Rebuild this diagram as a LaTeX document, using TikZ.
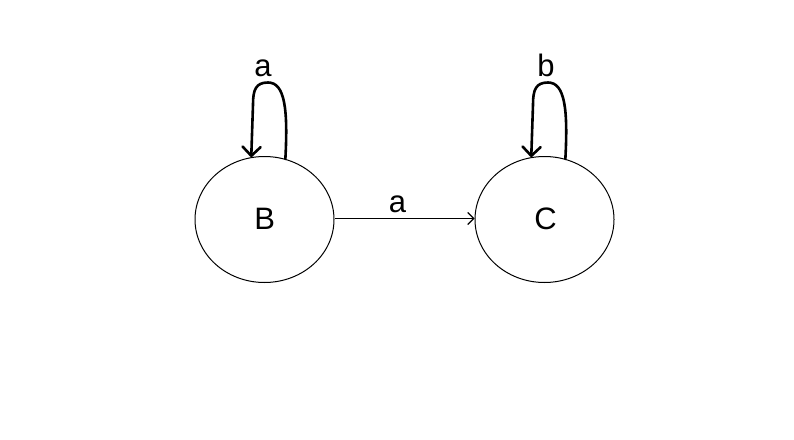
\documentclass[tikz,border=0pt]{standalone}
\usepackage{fontspec}
\setmainfont{Liberation Sans}
\usetikzlibrary{shapes.geometric,arrows.meta,calc}
\begin{document}
\begin{tikzpicture}[x=1pt,y=-1pt,
  state/.style={ellipse,draw,line width=1pt,minimum width=139pt,minimum height=126pt,inner sep=0pt},
  lbl/.style={font=\fontsize{31}{36}\selectfont,inner sep=0pt,anchor=base},
  loopline/.style={line width=2.6pt,line cap=round,line join=round,-{Straight Barb[length=9pt,width=18pt,line cap=round,line join=round]}},
  trans/.style={line width=1.1pt,-{Straight Barb[length=6pt,width=12pt]}}]
\useasboundingbox (0,0) rectangle (794,439);
\fill[white] (0,0) rectangle (794,439);
\node[state] (B) at (264.5,219.5) {};
\node[state] (C) at (544.5,219.5) {};
\node[lbl] (Bt) at (264.7,229) {B};
\node[lbl] (Ct) at (545.5,229) {C};
\node[lbl] (la) at (263,76) {a};
\node[lbl] (lb) at (546,76) {b};
\node[lbl] (le) at (397.5,212) {a};
\draw[trans] (B.east |- 0,218.5) -- (C.west |- 0,218.5);
\draw[loopline] (B.71) .. controls ($(B.center)+(23.5,-110)$) and ($(B.center)+(20.5,-137)$) .. ($(B.center)+(3.5,-137)$)
  .. controls ($(B.center)+(-8.5,-137)$) and ($(B.center)+(-11.5,-130)$) .. ($(B.center)+(-11.5,-115)$) -- (B.102);
\draw[loopline] (C.71) .. controls ($(C.center)+(23.5,-110)$) and ($(C.center)+(20.5,-137)$) .. ($(C.center)+(3.5,-137)$)
  .. controls ($(C.center)+(-8.5,-137)$) and ($(C.center)+(-11.5,-130)$) .. ($(C.center)+(-11.5,-115)$) -- (C.102);
\end{tikzpicture}
\end{document}
